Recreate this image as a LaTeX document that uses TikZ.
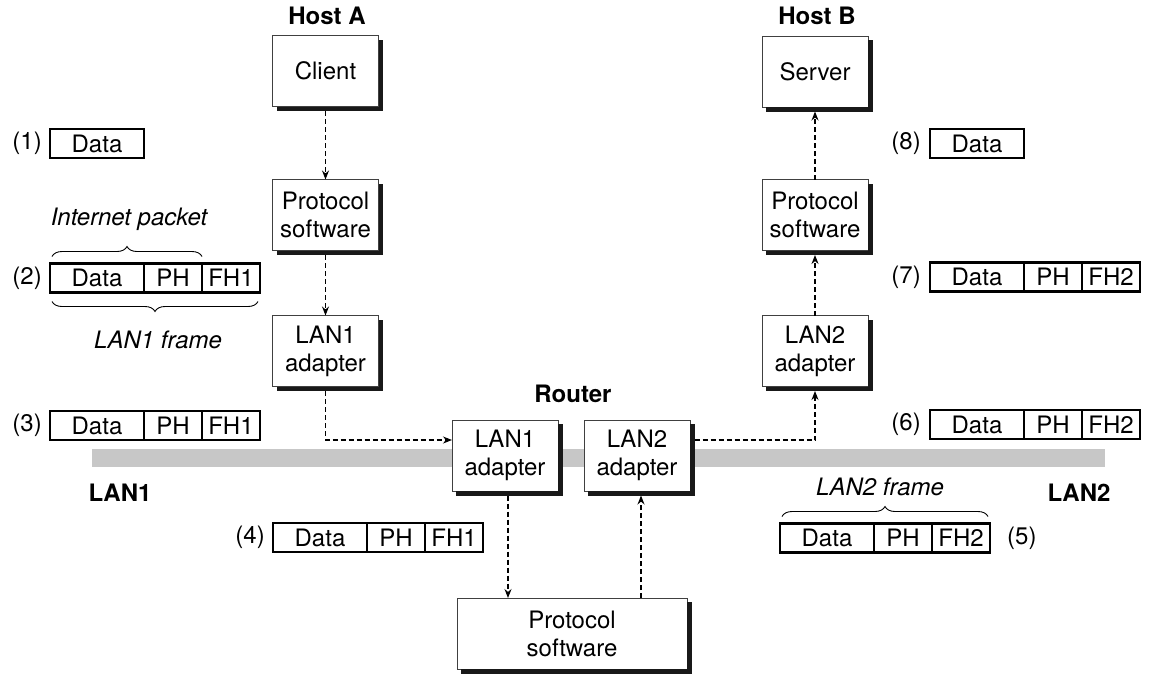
\documentclass[tikz,border=0pt]{standalone}
\usepackage{fontspec}
\setmainfont{TeX Gyre Heros}
\usetikzlibrary{arrows.meta,decorations.pathreplacing,calc}
\newcommand\fullpkt[4]{%
  \node[seg, minimum width=94pt, anchor=west] (#1d) at (#2,#3) {Data};
  \node[seg, minimum width=58pt, anchor=west] (#1p) at (#1d.east) {PH};
  \node[seg, minimum width=58pt, anchor=west] (#1f) at (#1p.east) {#4};}
\begin{document}
\begin{tikzpicture}[x=1pt,y=-1pt,
  txt/.style={font=\fontsize{24}{28}\selectfont, inner sep=0pt, align=center},
  ttl/.style={font=\fontsize{24}{28}\selectfont\bfseries, inner sep=0pt},
  itl/.style={font=\fontsize{24}{28}\selectfont\itshape, inner sep=0pt},
  box/.style={txt, draw=black!75, line width=0.9pt, fill=white, outer sep=0pt,
    minimum width=106pt, minimum height=71pt},
  shadowfill/.style={fill=black!90},
  seg/.style={txt, draw=black, line width=2.2pt, fill=white, outer sep=0pt,
    minimum height=29pt},
  dasharrow/.style={line width=1.1pt, dash pattern=on 5pt off 3pt,
    -{Stealth[length=9pt,width=7pt]}},
  brc/.style={line width=0.9pt, decorate, decoration={brace, amplitude=10pt}}
]
\useasboundingbox (0,0) rectangle (1150,681);
% LAN bar
\fill[black!22] (92,449) rectangle (1105,467);
% titles
\node[ttl] (hosta) at (327,16) {Host A};
\node[ttl] (hostb) at (817,16) {Host B};
\node[ttl] (router) at (573,394) {Router};
\node[ttl] (lan1) at (120,493) {LAN1};
\node[ttl] (lan2) at (1079,493) {LAN2};
% Host A
\node[box] (a1) at (325.5,71) {Client};
\node[box] (a2) at (325.5,215) {Protocol\\software};
\node[box] (a3) at (325.5,351) {LAN1\\adapter};
% Host B
\node[box] (b1) at (815,71.5) {Server};
\node[box] (b2) at (815,215) {Protocol\\software};
\node[box] (b3) at (815,351) {LAN2\\adapter};
% Router
\node[box] (r1) at (505,455.5) {LAN1\\adapter};
\node[box] (r2) at (637,455.5) {LAN2\\adapter};
\node[box, minimum width=230pt] (rp) at (572,633.5) {Protocol\\software};
% shadows: right and bottom strips
\foreach \nn in {a1,a2,a3,b1,b2,b3,r1,r2,rp} {
  \fill[shadowfill] ($(\nn.north east)+(0.45,4)$) rectangle ($(\nn.south east)+(4.5,4.5)$);
  \fill[shadowfill] ($(\nn.south west)+(4,0.45)$) rectangle ($(\nn.south east)+(4.5,4.5)$);
}
% arrows
\draw[dasharrow] ([yshift=-4.5pt]a1.south) -- (a2.north);
\draw[dasharrow] ([yshift=-4.5pt]a2.south) -- (a3.north);
\draw[dasharrow] ([yshift=-4.5pt]a3.south) |- ([yshift=15.5pt]r1.west);
\draw[dasharrow] ([xshift=3pt,yshift=-4.5pt]r1.south) -- ([xshift=3pt]r1.south |- rp.north);
\draw[dasharrow] ([xshift=4pt]rp.north -| r2.south) -- ([xshift=4pt,yshift=-4.5pt]r2.south);
\draw[dasharrow] ([yshift=15.5pt,xshift=4.5pt]r2.east) -| ([yshift=-4.5pt]b3.south);
\draw[dasharrow] (b3.north) -- ([yshift=-4.5pt]b2.south);
\draw[dasharrow] (b2.north) -- ([yshift=-4.5pt]b1.south);
% packets
\node[seg, minimum width=94pt, anchor=west] (p1d) at (50,143.5) {Data};
\node[txt, anchor=east] (l1) at (42,143.5) {(1)};
\fullpkt{p2}{50}{278}{FH1}
\node[txt, anchor=east] (l2) at (42,278) {(2)};
\fullpkt{p3}{50}{425.5}{FH1}
\node[txt, anchor=east] (l3) at (42,425.5) {(3)};
\fullpkt{p4}{273}{537.5}{FH1}
\node[txt, anchor=east] (l4) at (265,537.5) {(4)};
\fullpkt{p5}{780}{538}{FH2}
\node[txt, anchor=west] (l5) at (1007,538) {(5)};
\fullpkt{p6}{930}{424.5}{FH2}
\node[txt, anchor=east] (l6) at (921,424.5) {(6)};
\fullpkt{p7}{930}{277}{FH2}
\node[txt, anchor=east] (l7) at (921,277) {(7)};
\node[seg, minimum width=94pt, anchor=west] (p8d) at (930,143.5) {Data};
\node[txt, anchor=east] (l8) at (921,143.5) {(8)};
% braces
\draw[brc] ([xshift=2pt,yshift=7pt]p2d.north west) -- ([yshift=7pt]p2p.north east);
\node[itl] (ip) at (129,219) {Internet packet};
\draw[brc, decoration={mirror}] ([xshift=2pt,yshift=-9pt]p2d.south west) -- ([xshift=-2pt,yshift=-9pt]p2f.south east);
\node[itl] (f1) at (158,340) {LAN1 frame};
\draw[brc] ([xshift=2pt,yshift=7pt]p5d.north west) -- ([xshift=-2pt,yshift=7pt]p5f.north east);
\node[itl] (f2) at (880,487) {LAN2 frame};
\end{tikzpicture}
\end{document}
